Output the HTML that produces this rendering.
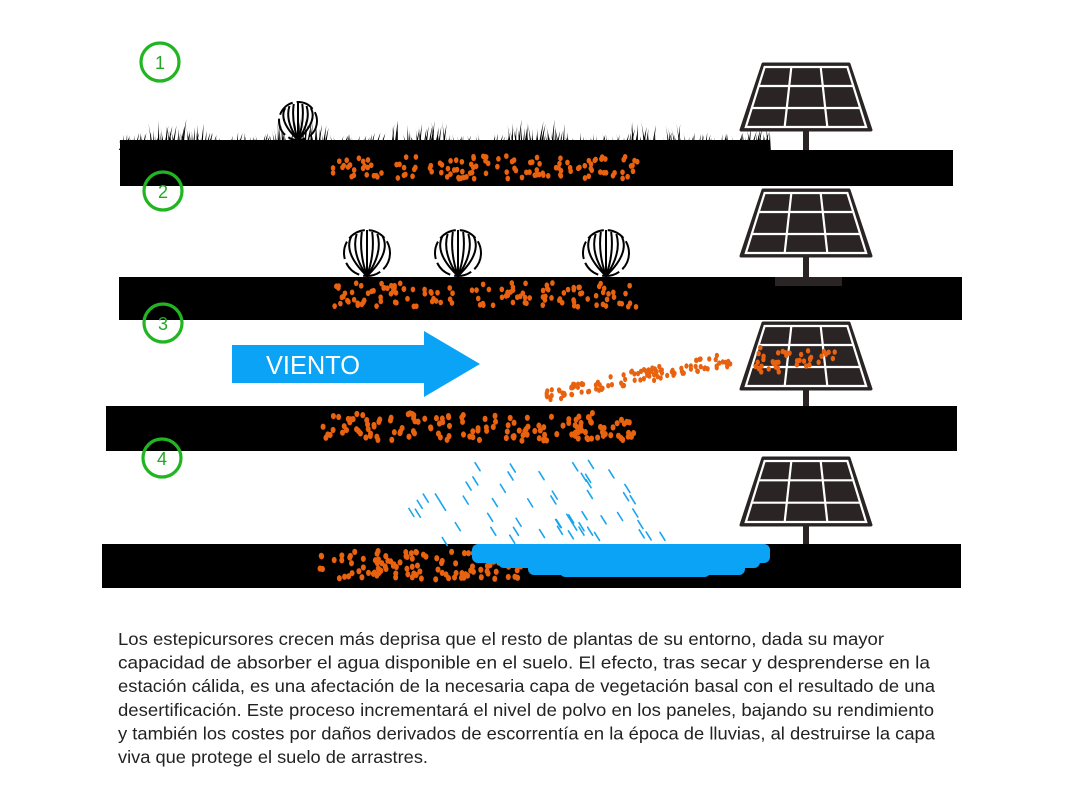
<!DOCTYPE html>
<html><head><meta charset="utf-8"><style>
html,body{margin:0;padding:0;background:#fff;width:1078px;height:810px;overflow:hidden}
svg{display:block}
</style></head><body>
<svg id="s" width="1078" height="810" viewBox="0 0 1078 810" xmlns="http://www.w3.org/2000/svg">
<g id="grass"></g>
<rect x="120" y="150" width="833" height="36" fill="#000"/>
<rect x="119" y="277" width="843" height="43" fill="#000"/>
<rect x="106" y="406" width="851" height="45" fill="#000"/>
<rect x="102" y="544" width="859" height="44" fill="#000"/>
<rect x="775" y="277" width="67" height="9" fill="#2a2424"/>
<g id="panels"></g>
<g id="weeds" fill="none" stroke="#000" stroke-width="2"></g>
<g id="dots" fill="#e8620f"></g>
<g id="rain" stroke="#1aa5ee" stroke-width="1.6" stroke-linecap="round"></g>
<g fill="#0aa3f5">
<rect x="232" y="345" width="195" height="38"/>
<polygon points="424,331 480,364 424,397"/>
<rect x="472" y="544" width="298" height="19" rx="6"/>
<rect x="498" y="548" width="262" height="20" rx="6"/>
<rect x="528" y="555" width="217" height="20" rx="6"/>
<rect x="560" y="565" width="150" height="12" rx="5"/>
</g>
<text x="266" y="374" font-family="Liberation Sans Narrow, Liberation Sans, sans-serif" font-size="26" fill="#fff" textLength="94" lengthAdjust="spacingAndGlyphs">VIENTO</text>
<g fill="none" stroke="#22b522" stroke-width="3.2">
<circle cx="160" cy="62" r="19"/><circle cx="163" cy="191" r="19"/><circle cx="163" cy="323" r="19"/><circle cx="162" cy="458" r="19"/>
</g>
<g font-family="Liberation Sans, sans-serif" font-size="18" fill="#22a822" text-anchor="middle">
<text x="160" y="69">1</text><text x="163" y="198">2</text><text x="163" y="330">3</text><text x="162" y="465">4</text>
</g>
<g font-family="Liberation Sans Narrow, Liberation Sans, sans-serif" font-size="17.5" fill="#222" lengthAdjust="spacingAndGlyphs">
<text x="118" y="645" textLength="766" lengthAdjust="spacingAndGlyphs">Los estepicursores crecen más deprisa que el resto de plantas de su entorno, dada su mayor</text>
<text x="118" y="668.5" textLength="812" lengthAdjust="spacingAndGlyphs">capacidad de absorber el agua disponible en el suelo. El efecto, tras secar y desprenderse en la</text>
<text x="118" y="692" textLength="817" lengthAdjust="spacingAndGlyphs">estación cálida, es una afectación de la necesaria capa de vegetación basal con el resultado de una</text>
<text x="118" y="716" textLength="816" lengthAdjust="spacingAndGlyphs">desertificación.  Este proceso incrementará el nivel de polvo en los paneles, bajando su rendimiento</text>
<text x="118" y="739.5" textLength="817" lengthAdjust="spacingAndGlyphs">y también los costes por daños derivados de escorrentía en la época de lluvias, al destruirse la capa</text>
<text x="118" y="763" textLength="310" lengthAdjust="spacingAndGlyphs">viva que protege el suelo de arrastres.</text>
</g>
</svg>
<script>
var NS="http://www.w3.org/2000/svg";
var seed=7;function r(){seed=(seed*16807)%2147483647;return seed/2147483647;}
function el(p,t,a){var e=document.createElementNS(NS,t);for(var k in a)e.setAttribute(k,a[k]);document.getElementById(p).appendChild(e);return e;}
[[64,130,150],[190,256,277],[323,389,406],[458,525,544]].forEach(function(p){
 var t=p[0],b=p[1];
 el("panels","rect",{x:803,y:b,width:6,height:p[2]-b,fill:"#2a2424"});
 el("panels","polygon",{points:(763)+","+t+" "+(849)+","+t+" "+(871)+","+b+" "+(741)+","+b,fill:"#2a2424",stroke:"#2a2424","stroke-width":3,"stroke-linejoin":"round"});
 var h=b-t;
 function X(f,y){var k=(y-t)/h;var L=763-22*k,R=849+22*k;return L+(R-L)*f;}
 var g="";
 var i1=t+3,i2=b-3;
 g+="M"+X(0.03,i1)+","+i1+"L"+X(0.97,i1)+","+i1+"L"+X(0.97,i2)+","+i2+"L"+X(0.03,i2)+","+i2+"Z";
 [1/3,2/3].forEach(function(f){g+="M"+X(f,i1)+","+i1+"L"+X(f,i2)+","+i2;});
 [t+h/3,t+2*h/3].forEach(function(y){g+="M"+X(0.03,y)+","+y+"L"+X(0.97,y)+","+y;});
 el("panels","path",{d:g,fill:"none",stroke:"#fff","stroke-width":2.2});
});
// grass: base fill + blades
el("grass","rect",{x:120,y:140,width:650,height:12,fill:"#000"});
for(var x=120;x<=770;x+=1.6){
 var gap=(x>218&&x<230)||(x>398&&x<405)||(x>485&&x<492)||(x>574&&x<580)||(x>657&&x<665);
 if(gap)continue;
 var clump=Math.abs(Math.sin(x/38))>0.75;
 var hgt=8+r()*10+(clump?r()*16:0);
 var lean=(r()-0.5)*10;
 el("grass","path",{d:"M"+(x-1.2)+",150 Q"+(x+lean*0.3)+","+(150-hgt*0.6)+" "+(x+lean)+","+(150-hgt)+" Q"+(x+lean*0.3+0.6)+","+(150-hgt*0.5)+" "+(x+1.2)+",150Z",fill:"#000"});
}
function weed(cx,cy,rad){
 el("weeds","circle",{cx:cx,cy:cy,r:rad,"stroke-dasharray":"18 4"});
 for(var i=-3;i<=3;i++){var dx=i*rad/4;el("weeds","path",{d:"M"+cx+","+(cy+rad)+"Q"+(cx+dx*1.4)+","+cy+" "+(cx+dx*0.9)+","+(cy-rad+Math.abs(i)*2)});}
}
weed(298,121,19);weed(367,253,23);weed(458,253,23);weed(606,253,23);
function band(x1,x2,y1,y2,n,rr){for(var i=0;i<n;i++){el("dots","ellipse",{cx:x1+r()*(x2-x1),cy:y1+r()*(y2-y1),rx:rr,ry:rr*1.25});}}
band(333,640,156,179,130,2.3);
band(333,636,283,307,130,2.3);
band(323,635,413,441,150,2.5);
band(320,520,551,580,110,2.5);
band(520,560,555,575,10,2.3);
for(var i=0;i<110;i++){var f=r();var x=543+f*190;var y=402-f*36-r()*14;el("dots","ellipse",{cx:x,cy:y,rx:2.1,ry:2.7});}
band(755,835,347,372,40,2.2);
// rain in a diagonal band
for(var i=0;i<55;i++){var y=460+r()*78;var off=(y-460)*1.3;var x=360+off*0.55+r()*250;if(x>690)continue;el("rain","line",{x1:x,y1:y,x2:x+5,y2:y+8});}
</script>
</body></html>
